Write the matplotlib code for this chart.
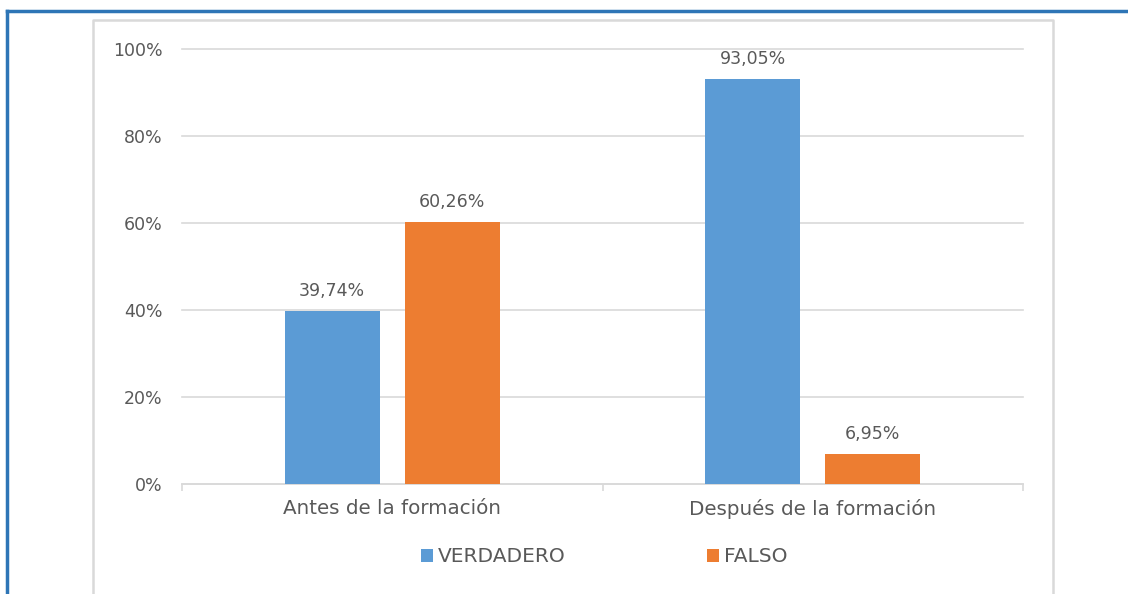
import matplotlib
matplotlib.use("Agg")
import matplotlib.pyplot as plt
import numpy as np
from matplotlib.lines import Line2D

categories = ["Antes de la formación", "Después de la formación"]
series_names = ["VERDADERO", "FALSO"]
verdadero = [39.74, 93.05]
falso = [60.26, 6.95]
yticks = [0, 20, 40, 60, 80, 100]

plt.rcParams['font.family'] = ['DejaVu Sans']
txt = '#595959'
grid = '#D9D9D9'
blue = '#5B9BD5'
orange = '#ED7D31'

W, H = 1128, 594
fig = plt.figure(figsize=(W/100, H/100), dpi=100)
ax = fig.add_axes([182/W, 1-484/H, (1023-182)/W, (484-49)/H])

x = np.arange(len(categories))
bw = 0.226
off = 0.143
b1 = ax.bar(x - off, verdadero, bw, color=blue, label=series_names[0], zorder=3)
b2 = ax.bar(x + off, falso, bw, color=orange, label=series_names[1], zorder=3)

for bars, vals in ((b1, verdadero), (b2, falso)):
    for r, v in zip(bars, vals):
        ax.annotate(f"{v:.2f}%".replace('.', ','), (r.get_x() + r.get_width()/2, v),
                    xytext=(0, 8), textcoords='offset points', ha='center', va='bottom',
                    fontsize=12.5, color=txt)

ax.set_xlim(-0.5, 1.5)
ax.set_ylim(0, 100)
ax.set_yticks(yticks)
ax.set_yticklabels([f"{t}%" for t in yticks])
ax.set_xticks(x)
ax.set_xticklabels(categories)
ax.set_xticks([-0.5, 0.5, 1.5], minor=True)
ax.tick_params(axis='y', length=0, pad=14, labelsize=12.5, labelcolor=txt)
ax.tick_params(axis='x', which='major', length=0, pad=11, labelsize=14.3, labelcolor=txt)
ax.tick_params(axis='x', which='minor', length=5, color=grid, width=1.2)
ax.yaxis.grid(True, color=grid, lw=1.2, zorder=0)
for gl in ax.get_ygridlines():
    gl.set_clip_on(False)
for s in ['top', 'right', 'left']:
    ax.spines[s].set_visible(False)
ax.spines['bottom'].set_color(grid)
ax.spines['bottom'].set_linewidth(1.2)

fig.legend(handles=[b1, b2], labels=series_names, loc='center', ncol=2,
           bbox_to_anchor=(604/W, 1-557/H), frameon=False, fontsize=14.5,
           handlelength=0.6, handleheight=0.6, handletextpad=0.25,
           columnspacing=7.0, labelcolor=txt)

# outer frames
fig.add_artist(Line2D([7/W, 7/W], [0, 1-11/H], color='#2E75B6', lw=2.5))
fig.add_artist(Line2D([7/W, 1], [1-11/H, 1-11/H], color='#2E75B6', lw=2.5))
fig.add_artist(Line2D([93/W, 93/W, 1053/W, 1053/W], [0, 1-20/H, 1-20/H, 0], color=grid, lw=1.8))

fig.savefig("out.png", dpi=100)
